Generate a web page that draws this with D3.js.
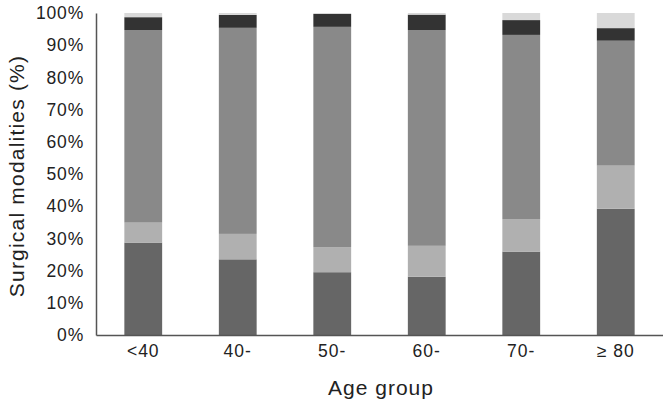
<!DOCTYPE html>
<html>
<head>
<meta charset="utf-8">
<script src="https://cdn.jsdelivr.net/npm/d3@7"></script>
<style>
  body { margin: 0; background: #fff; }
  text { font-family: "Liberation Sans", Arial, sans-serif; fill: #222; }
</style>
</head>
<body>
<div id="chart"></div>
<script>
// age groups and stacked shares (%), bottom to top
var groups = ["<40", "40-", "50-", "60-", "70-", "\u2265 80"];
var seriesA = [28.7, 23.5, 19.5, 18.1, 25.9, 39.2];
var seriesB = [6.2, 7.9, 7.8, 9.6, 10.1, 13.4];
var seriesC = [59.8, 64.0, 68.4, 67.0, 57.2, 38.8];
var seriesD = [4.0, 4.0, 4.0, 4.8, 4.6, 3.9];
var seriesE = [1.3, 0.6, 0.3, 0.5, 2.2, 4.7];
var yTicks = [0, 10, 20, 30, 40, 50, 60, 70, 80, 90, 100];

var keys = ["a", "b", "c", "d", "e"];
var colors = {a: "#666666", b: "#b0b0b0", c: "#898989", d: "#333333", e: "#d9d9d9"};

var rows = groups.map(function(g, i) {
    return {group: g, a: seriesA[i], b: seriesB[i], c: seriesC[i], d: seriesD[i], e: seriesE[i]};
});

var width = 663, height = 403;
var margin = {left: 96, right: 0, top: 13, bottom: 68};

var svg = d3.select("#chart").append("svg")
    .attr("width", width)
    .attr("height", height);

var x = d3.scaleBand()
    .domain(groups)
    .range([margin.left, width - margin.right])
    .paddingInner(0.6)
    .paddingOuter(0.3);

var y = d3.scaleLinear()
    .domain([0, 100])
    .range([height - margin.bottom, margin.top]);

var stack = d3.stack().keys(keys);
var layers = stack(rows);

svg.selectAll(".layer")
    .data(layers)
    .enter()
    .append("g")
    .attr("class", "layer")
    .attr("fill", function(d) { return colors[d.key]; })
    .selectAll("rect")
    .data(function(d) { return d; })
    .enter()
    .append("rect")
    .attr("x", function(d) { return x(d.data.group); })
    .attr("width", x.bandwidth())
    .attr("y", function(d) { return y(d[1]); })
    .attr("height", function(d) { return y(d[0]) - y(d[1]); });

// y axis
var yAxis = svg.append("g")
    .attr("transform", "translate(" + margin.left + ",0)")
    .call(d3.axisLeft(y).tickValues(yTicks).tickSize(0).tickPadding(12)
        .tickFormat(function(d) { return d + "%"; }));
yAxis.select(".domain").attr("stroke", "#555").attr("stroke-width", 1.5);
yAxis.selectAll("text")
    .attr("font-size", 17.5)
    .attr("letter-spacing", 0.8)
    .attr("fill", "#222");

// x axis
var xAxis = svg.append("g")
    .attr("transform", "translate(0," + (height - margin.bottom) + ")")
    .call(d3.axisBottom(x).tickSize(0).tickPadding(10));
xAxis.select(".domain").attr("stroke", "#555").attr("stroke-width", 1.5);
xAxis.selectAll("text")
    .attr("font-size", 17.5)
    .attr("letter-spacing", 1)
    .attr("fill", "#222");

svg.append("text")
    .attr("x", 381)
    .attr("y", 395)
    .attr("text-anchor", "middle")
    .attr("font-size", 21)
    .attr("letter-spacing", 1)
    .text("Age group");

svg.append("text")
    .attr("transform", "translate(24,176) rotate(-90)")
    .attr("text-anchor", "middle")
    .attr("font-size", 21)
    .attr("letter-spacing", 1.2)
    .text("Surgical modalities (%)");
</script>
</body>
</html>
